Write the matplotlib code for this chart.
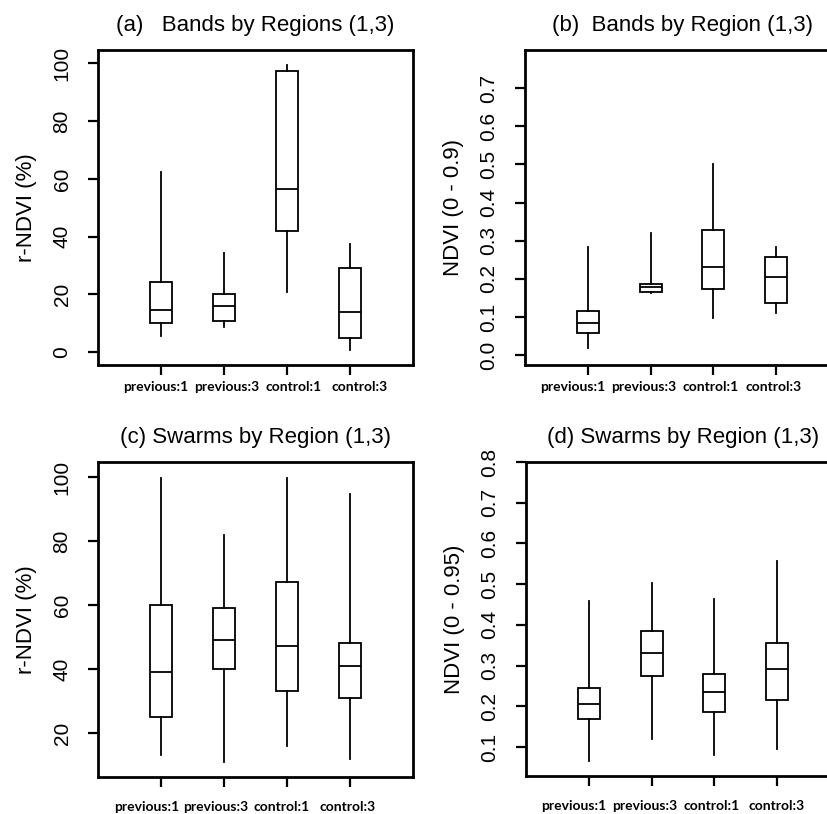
import matplotlib
matplotlib.use("Agg")
import matplotlib.pyplot as plt

plt.rcParams['font.family'] = ['Liberation Sans', 'DejaVu Sans']

categories = ["previous:1", "previous:3", "control:1", "control:3"]
positions = [1, 2, 3, 4]

# five-number summaries: (min, q1, median, q3, max)
bands_rndvi = [
    (5.8, 10.1, 14.8, 24.3, 62.4),
    (8.9, 10.9, 16.1, 20.3, 34.5),
    (20.7, 42.0, 56.6, 97.5, 99.4),
    (0.9, 5.0, 13.8, 29.2, 37.3),
]
bands_ndvi = [
    (0.0175, 0.057, 0.083, 0.1155, 0.284),
    (0.162, 0.166, 0.178, 0.186, 0.319),
    (0.096, 0.172, 0.232, 0.328, 0.500),
    (0.111, 0.137, 0.206, 0.256, 0.284),
]
swarms_rndvi = [
    (13.0, 25.0, 39.1, 60.0, 99.8),
    (10.9, 40.1, 49.0, 59.1, 81.8),
    (15.9, 33.0, 47.1, 67.2, 99.8),
    (12.0, 31.0, 40.9, 48.2, 94.8),
]
swarms_ndvi = [
    (0.065, 0.168, 0.205, 0.246, 0.459),
    (0.119, 0.275, 0.330, 0.386, 0.504),
    (0.080, 0.185, 0.235, 0.280, 0.463),
    (0.095, 0.215, 0.291, 0.355, 0.558),
]

titles = ["(a)   Bands by Regions (1,3)", "(b)  Bands by Region (1,3)",
          "(c) Swarms by Region (1,3)", "(d) Swarms by Region (1,3)"]
ylabels = ["r-NDVI (%)", "NDVI (0 - 0.9)", "r-NDVI (%)", "NDVI (0 - 0.95)"]
yticks_list = [[0, 20, 40, 60, 80, 100],
               [0.0, 0.1, 0.2, 0.3, 0.4, 0.5, 0.6, 0.7],
               [20, 40, 60, 80, 100],
               [0.1, 0.2, 0.3, 0.4, 0.5, 0.6, 0.7, 0.8]]
ytick_fmt = ["{:.0f}", "{:.1f}", "{:.0f}", "{:.1f}"]
ylims = [(-4.4, 104.6), (-0.026, 0.80), (6.25, 104.7), (0.029, 0.80)]
datasets = [bands_rndvi, bands_ndvi, swarms_rndvi, swarms_ndvi]

W, H = 828, 814
fig = plt.figure(figsize=(W / 100, H / 100), dpi=100)

# axes boxes in pixels: left, top, right, bottom
boxes_px = [(98, 50, 413, 365), (525, 50, 839, 365),
            (98, 462, 413, 777), (526, 462, 840, 776)]
label_drop = [16, 16, 24, 24]
# horizontal nudges (px) of the category labels, as in the pasted-in labels
label_nudges = [[-5, 3, 7, 10], [-15, -7, -3, -3],
                [-14, -8, -5, -2], [-15, -7, -3, -1]]

for i, (l, t, r, b) in enumerate(boxes_px):
    ax = fig.add_axes([l / W, 1 - b / H, (r - l) / W, (b - t) / H])
    stats = []
    for name, (mn, q1, med, q3, mx) in zip(categories, datasets[i]):
        stats.append(dict(label=name, whislo=mn, q1=q1, med=med, q3=q3, whishi=mx))
    ax.bxp(stats, positions=positions, widths=0.35, showfliers=False,
           showcaps=False, patch_artist=True,
           boxprops=dict(facecolor="white", edgecolor="black", linewidth=1.3),
           whiskerprops=dict(color="black", linewidth=1.3),
           medianprops=dict(color="black", linewidth=1.3))
    ax.set_xlim(0, 5)
    ax.set_ylim(*ylims[i])
    ax.set_yticks(yticks_list[i])
    ax.set_yticklabels([ytick_fmt[i].format(v) for v in yticks_list[i]],
                       rotation=90, va="center", fontsize=15)
    ax.set_xticks(positions)
    ax.set_xticklabels([])
    for pos, name, dx in zip(positions, categories, label_nudges[i]):
        ax.annotate(name, xy=(pos, 0), xycoords=("data", "axes fraction"),
                    xytext=(dx, -label_drop[i]), textcoords="offset pixels",
                    ha="center", va="top", fontsize=10, fontweight="bold",
                    family=["Lato", "DejaVu Sans"], annotation_clip=False)
    ax.tick_params(axis="y", length=7, width=1.6, pad=12)
    ax.tick_params(axis="x", length=7, width=1.6)
    for s in ax.spines.values():
        s.set_linewidth(2.0)
    ax.set_title(titles[i], fontsize=16, pad=14)
    ax.set_ylabel(ylabels[i], fontsize=16)
    ax.yaxis.set_label_coords(-0.195, 0.5)

fig.savefig("out.png", dpi=100)
